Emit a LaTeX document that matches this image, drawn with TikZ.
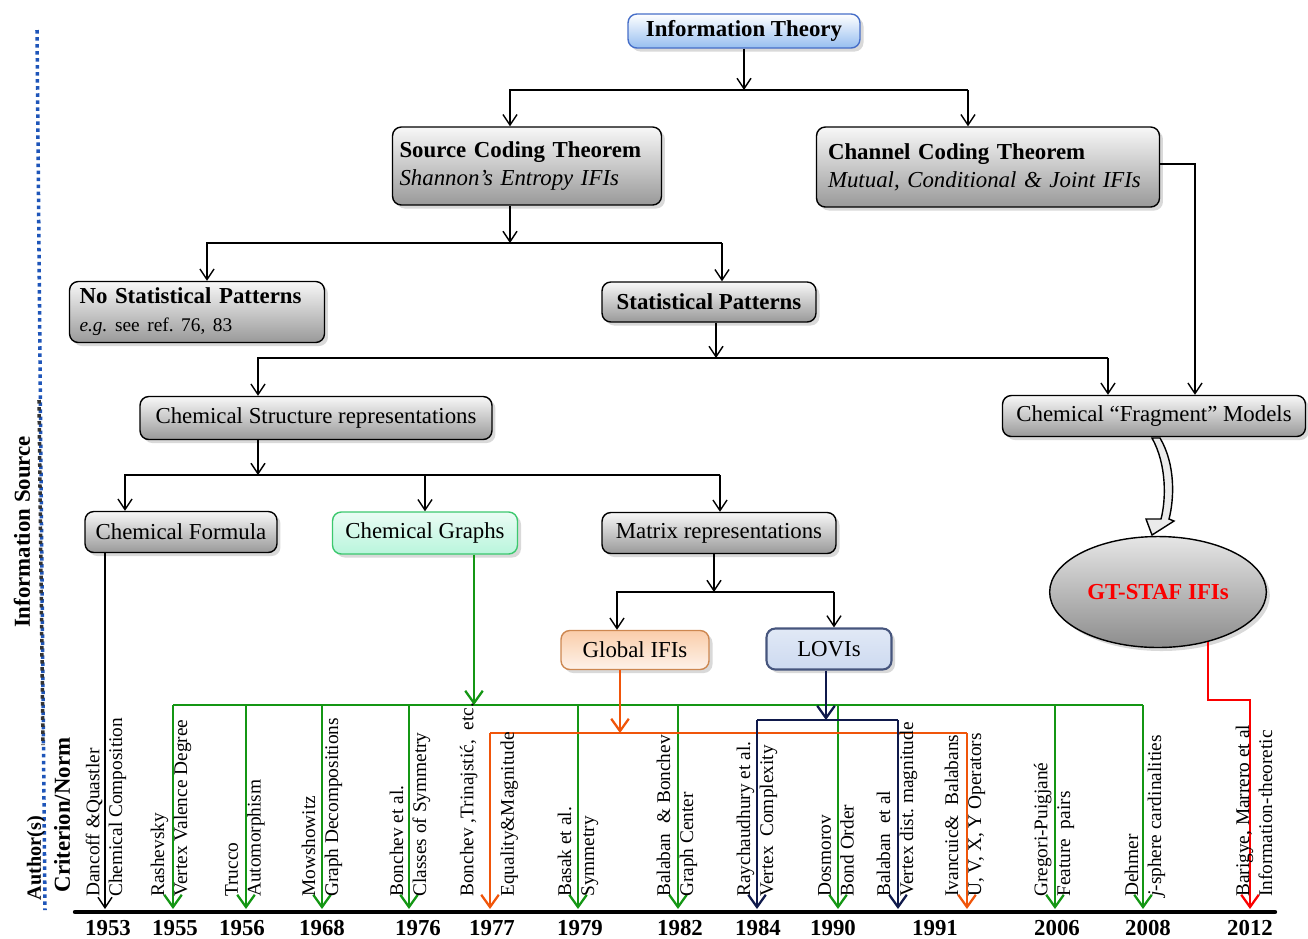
\documentclass[tikz,border=0pt]{standalone}
\usepackage{fontspec}
\setmainfont{Liberation Serif}
\usetikzlibrary{arrows.meta,shadows,shapes.geometric}
\frenchspacing

\definecolor{gline}{RGB}{20,150,20}
\definecolor{oline}{RGB}{240,85,10}
\definecolor{nline}{RGB}{15,25,75}
\definecolor{rline}{RGB}{250,0,0}
\definecolor{dotblue}{RGB}{30,85,185}
\definecolor{itdraw}{RGB}{70,110,200}
\definecolor{itfill}{RGB}{150,190,240}
\definecolor{cgdraw}{RGB}{60,200,110}
\definecolor{cgfill}{RGB}{185,245,220}
\definecolor{gidraw}{RGB}{205,135,80}
\definecolor{gifill}{RGB}{250,205,170}
\definecolor{lvdraw}{RGB}{70,85,125}
\definecolor{lvfill}{RGB}{205,218,240}

\newcommand{\bxfont}{\fontsize{13}{16}\selectfont}
\newcommand{\lbfont}{\fontsize{11}{13}\selectfont}

\tikzset{
  box/.style={draw=black, line width=0.8pt, rounded corners=5pt,
    top color=black!3, bottom color=black!40,
    drop shadow={shadow xshift=2pt, shadow yshift=-2pt, opacity=0.3},
    font=\bxfont, inner sep=0pt},
  line/.style={line width=0.8pt},
  arr/.style={line, -{Straight Barb[length=6pt,width=8pt]}},
  gl/.style={draw=gline, line width=1.3pt},
  ol/.style={draw=oline, line width=1.3pt},
  nl/.style={draw=nline, line width=1.3pt},
  garr/.style={gl, -{Straight Barb[length=7pt,width=10pt]}},
  oarr/.style={ol, -{Straight Barb[length=7pt,width=10pt]}},
  narr/.style={nl, -{Straight Barb[length=7pt,width=10pt]}},
  rarr/.style={draw=rline, line width=1.3pt, -{Straight Barb[length=7pt,width=10pt]}},
  lbl/.style={rotate=90, anchor=west, align=left, inner sep=0pt, font=\lbfont},
  yr/.style={inner sep=0pt, font=\bxfont\bfseries},
  side/.style={rotate=90, inner sep=0pt, font=\bxfont\bfseries}
}

\begin{document}
\begin{tikzpicture}[x=0.02cm,y=-0.02cm]
\useasboundingbox (0,0) rectangle (1308,938);

\draw[dotblue, line width=2pt, dash pattern=on 2pt off 2pt] (37,30) -- (45,910);
\draw[black!80, line width=2pt, dash pattern=on 2pt off 2pt] (39,400) -- (43,745);
\node[side] (IS) at (22,532) {Information Source};
\node[side, font=\fontsize{11.5}{14}\selectfont\bfseries] (AU) at (36,858) {Author(s)};
\node[side] (CN) at (62,815) {Criterion/Norm};

\node[box, draw=itdraw, top color=white, bottom color=itfill, minimum width=4.64cm, minimum height=0.68cm, font=\bxfont\bfseries] (IT) at (744,31) {Information Theory};
\node[box, minimum width=5.38cm, minimum height=1.56cm, text width=5.1cm, align=left] (SCT) at (527,166) {\textbf{Source Coding Theorem}\\\textit{Shannon's Entropy IFIs}};
\node[box, minimum width=6.86cm, minimum height=1.6cm, text width=6.4cm, align=left] (CCT) at (988,167) {\textbf{Channel Coding Theorem}\\\textit{Mutual, Conditional \& Joint IFIs}};
\node[box, minimum width=5.1cm, minimum height=1.22cm, text width=4.7cm, align=left] (NSP) at (197,312) {\textbf{No Statistical Patterns}\\{\lbfont\textit{e.g.} see ref. 76, 83}};
\node[box, minimum width=4.28cm, minimum height=0.8cm, font=\bxfont\bfseries] (SP) at (709,302) {Statistical Patterns};
\node[box, minimum width=7.04cm, minimum height=0.86cm] (CSR) at (316,418) {Chemical Structure representations};
\node[box, minimum width=6.06cm, minimum height=0.82cm] (CFM) at (1154,416) {Chemical ``Fragment'' Models};
\node[box, minimum width=3.84cm, minimum height=0.82cm] (CF) at (181,532) {Chemical Formula};
\node[box, draw=cgdraw, top color=cgfill!30, bottom color=cgfill, minimum width=3.7cm, minimum height=0.84cm] (CG) at (425,533) {Chemical Graphs};
\node[box, minimum width=4.68cm, minimum height=0.82cm] (MR) at (719,533) {Matrix representations};
\node[box, draw=gidraw, top color=gifill, bottom color=gifill!25, minimum width=2.96cm, minimum height=0.78cm] (GI) at (635,650) {Global IFIs};
\node[box, draw=lvdraw, line width=1.2pt, top color=lvfill!60, bottom color=lvfill, minimum width=2.5cm, minimum height=0.82cm] (LV) at (829,649) {LOVIs};
\node[ellipse, draw, line width=0.8pt, top color=black!10, bottom color=black!45, drop shadow={shadow xshift=2pt, shadow yshift=-2pt, opacity=0.3}, minimum width=4.08cm, minimum height=2.22cm, font=\bxfont\bfseries, text=rline] (GT) at (1158,592) {GT-STAF IFIs};

\coordinate (b1l) at (510,90);
\coordinate (b1r) at (968,90);
\draw[arr] (IT) -- (IT |- b1l);
\draw[arr] (b1r) -- (b1l) -- (b1l |- SCT.north);
\draw[arr] (b1r) -- (b1r |- CCT.north);

\coordinate (b2l) at (207,243);
\coordinate (b2r) at (722,243);
\coordinate (j2) at (510,243);
\draw[arr] (SCT.south -| j2) -- (j2);
\draw[arr] (b2r) -- (b2l) -- (b2l |- NSP.north);
\draw[arr] (b2r) -- (b2r |- SP.north);

\coordinate (b3l) at (258,358);
\coordinate (b3r) at (1108,358);
\coordinate (j3) at (716,358);
\draw[arr] (SP.south -| j3) -- (j3);
\draw[arr] (b3r) -- (b3l) -- (b3l |- CSR.north);
\draw[arr] (b3r) -- (b3r |- CFM.north);

\coordinate (c1) at (1195,164);
\draw[arr] (CCT.east |- c1) -- (c1) -- (c1 |- CFM.north);

\coordinate (b4l) at (125,475);
\coordinate (b4m) at (425,475);
\coordinate (b4r) at (720,475);
\coordinate (j4) at (258,475);
\draw[arr] (CSR.south -| j4) -- (j4);
\draw[arr] (b4r) -- (b4l) -- (b4l |- CF.north);
\draw[arr] (b4m) -- (b4m |- CG.north);
\draw[arr] (b4r) -- (b4r |- MR.north);

\coordinate (b5l) at (617,592);
\coordinate (b5r) at (834,592);
\coordinate (j5) at (714,592);
\draw[arr] (MR.south -| j5) -- (j5);
\draw[arr] (b5r) -- (b5l) -- (b5l |- GI.north);
\draw[arr] (b5r) -- (b5r |- LV.north);

\filldraw[fill=black!8, line width=0.8pt] (1152,438) -- (1160,438)
  .. controls (1176,465) and (1174,500) .. (1169,519) -- (1174,521) -- (1152,535) -- (1146,519) -- (1161,519)
  .. controls (1166,500) and (1167,465) .. (1152,438) -- cycle;

\coordinate (ax) at (0,909);
\draw[line width=2.5pt, line cap=round] (75,912) -- (1275,912);

\coordinate (k) at (105,909);
\draw[arr] (CF.south -| k) -- (k);

\coordinate (gj) at (474,705);
\draw[garr] (CG.south -| gj) -- (gj);
\foreach \x [count=\i] in {173,246,322,409,578,678,838,1055,1143}
  \coordinate (g\i) at (\x,705);
\draw[gl] (g1) -- (g9);
\foreach \i in {1,...,9}
  \draw[garr] (g\i) -- (g\i |- ax);

\coordinate (oj) at (620,733);
\coordinate (o1) at (490,733);
\coordinate (o2) at (967,733);
\draw[oarr] (GI.south -| oj) -- (oj);
\draw[ol] (o1) -- (o2);
\draw[oarr] (o1) -- (o1 |- ax);
\draw[oarr] (o2) -- (o2 |- ax);

\coordinate (nj) at (826,720);
\coordinate (n1) at (757,720);
\coordinate (n2) at (898,720);
\draw[narr] (LV.south -| nj) -- (nj);
\draw[nl] (n1) -- (n2);
\draw[narr] (n1) -- (n1 |- ax);
\draw[narr] (n2) -- (n2 |- ax);

\coordinate (rc) at (1250,700);
\draw[rarr] (GT.-45) |- (rc) -- (rc |- ax);

\node[lbl] (L1) at (106,897) {Dancoff \&Quastler\\Chemical Composition};
\node[lbl] (L2) at (171,897) {Rashevsky\\Vertex Valence Degree};
\node[lbl] (L3) at (245,897) {Trucco\\Automorphism};
\node[lbl] (L4) at (322,897) {Mowshowitz\\Graph Decompositions};
\node[lbl] (L5) at (410,897) {Bonchev et al.\\Classes of Symmetry};
\node[lbl] (L6) at (489,897) {Bonchev ,Trinajstić,~ etc.\\[10pt]Equality\&Magnitude};
\node[lbl] (L7) at (578,897) {Basak et al.\\Symmetry};
\node[lbl] (L8) at (677,897) {Balaban~ \& Bonchev\\Graph Center};
\node[lbl] (L9) at (757,897) {Raychaudhury et al.\\Vertex~ Complexity};
\node[lbl] (L10) at (836,897) {Dosmorov\\Bond Order};
\node[lbl] (L11) at (897,897) {Balaban~ et al\\Vertex dist. magnitude};
\node[lbl] (L12) at (965,897) {Ivancuic\&~ Balabans\\U, V, X, Y Operators};
\node[lbl] (L13) at (1054,897) {Gregori-Puigjané\\Feature~ pairs};
\node[lbl] (L14) at (1145,897) {Dehmer\\\textit{j}-sphere cardinalities};
\node[lbl] (L15) at (1254,897) {Barigye, Marrero et al\\Information-theoretic};

\foreach \t/\x in {1953/108,1955/175,1956/242,1968/322,1976/418,1977/492,1979/580,1982/680,1984/758,1990/833,1991/935,2006/1057,2008/1148,2012/1250}
  \node[yr] (y\t) at (\x,928) {\t};
\end{tikzpicture}
\end{document}
